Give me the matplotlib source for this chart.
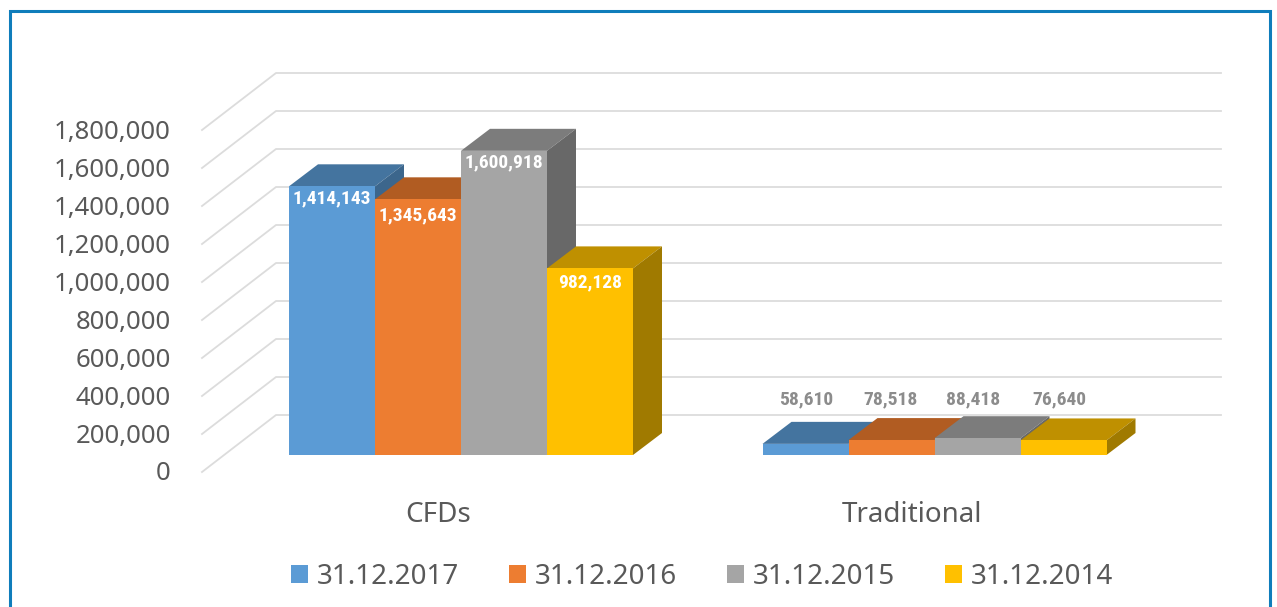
import matplotlib
matplotlib.use('Agg')
import matplotlib.pyplot as plt
from matplotlib.patches import Polygon, Patch, Rectangle
from matplotlib import font_manager

categories = ['CFDs', 'Traditional']
dates = ['31.12.2017', '31.12.2016', '31.12.2015', '31.12.2014']
cfds = [1414143, 1345643, 1600918, 982128]
traditional = [58610, 78518, 88418, 76640]
ticks = [0, 200000, 400000, 600000, 800000, 1000000, 1200000, 1400000, 1600000, 1800000]

front_col = ['#5B9BD5', '#ED7D31', '#A5A5A5', '#FFC000']
top_col = ['#44749F', '#B15C22', '#7C7C7C', '#BF9000']
side_col = ['#3C668C', '#9A4F1D', '#686868', '#A07A00']

names = {f.name for f in font_manager.fontManager.ttflist}
narrow = 'Roboto'
for n in ['Roboto Condensed', 'Open Sans Condensed', 'Liberation Sans Narrow']:
    if n in names:
        narrow = n
        break
text_col = '#595959'

W, H = 1277, 607
fig = plt.figure(figsize=(W / 100, H / 100), dpi=100)
ax = fig.add_axes([0, 0, 1, 1])

# one category step is 473.5 px, 342 px on screen is 1.8m
xu = 473.5
yu = 1800000 / 342
ax.set_xlim(-461 / xu, (W - 461) / xu)
ax.set_ylim(-(H - 455) * yu, 455 * yu)
ax.axis('off')

bar_w = 86 / xu
dep_x, dep_y = 29 / xu, 22 * yu


def bar3d(x, val, i):
    # top, side, then front so the next bar covers this one
    ax.add_patch(Polygon([(x, val), (x + bar_w, val), (x + bar_w + dep_x, val + dep_y), (x + dep_x, val + dep_y)],
                         fc=top_col[i], ec='none', zorder=3))
    ax.add_patch(Polygon([(x + bar_w, 0), (x + bar_w + dep_x, dep_y), (x + bar_w + dep_x, val + dep_y), (x + bar_w, val)],
                         fc=side_col[i], ec='none', zorder=3))
    ax.add_patch(Rectangle((x, 0), bar_w, val, fc=front_col[i], ec='none', zorder=3))


# walls
for t in ticks:
    ax.plot([(202 - 461) / xu, (276 - 461) / xu, (1221 - 461) / xu],
            [t - 17 * yu, t + 40 * yu, t + 40 * yu], color='#DCDCDC', lw=1.3, zorder=1,
            solid_joinstyle='round')
    ax.text((171 - 461) / xu, t - 19 * yu, f'{t:,}', ha='right', va='center',
            fontsize=18.5, color=text_col, family='Noto Sans')

for c, vals in enumerate([cfds, traditional]):
    for i, v in enumerate(vals):
        x = c + (i - 2) * bar_w
        bar3d(x, v, i)

cfd_drop = [12, 16, 12, 14]
for i, v in enumerate(cfds):
    ax.text((i - 1.5) * bar_w, v - cfd_drop[i] * yu, f'{v:,}', ha='center', va='center',
            fontsize=14, color='white', family=narrow, fontweight='bold', zorder=4)

trad_shift = [1, -1, -4, -4]
for i, v in enumerate(traditional):
    ax.text(1 + (i - 1.5) * bar_w + trad_shift[i] / xu, 56 * yu, f'{v:,}', ha='center', va='center',
            fontsize=14, color='#8C8C8C', family=narrow, fontweight='bold', zorder=4)

for c, name in enumerate(categories):
    ax.text(c - 22.5 / xu, -60 * yu, name, ha='center', va='center', fontsize=20,
            color=text_col, family='Noto Sans')

handles = [Patch(fc=front_col[i], ec='none', label=dates[i]) for i in range(4)]
ax.legend(handles=handles, ncol=4, loc='center', bbox_to_anchor=(702 / W, 1 - 577 / H), frameon=False,
          prop={'family': 'Noto Sans', 'size': 20}, labelcolor=text_col, handlelength=0.61, handleheight=0.61,
          handletextpad=0.29, columnspacing=1.83, borderpad=0, borderaxespad=0)

# blue frame, open at the bottom
fig.add_artist(plt.Line2D([10 / W, 10 / W, 1269.5 / W, 1269.5 / W], [0, 1 - 11 / H, 1 - 11 / H, 0],
                          color='#0F7DBB', lw=2.2, solid_joinstyle='miter'))

fig.savefig('out.png', dpi=100)
